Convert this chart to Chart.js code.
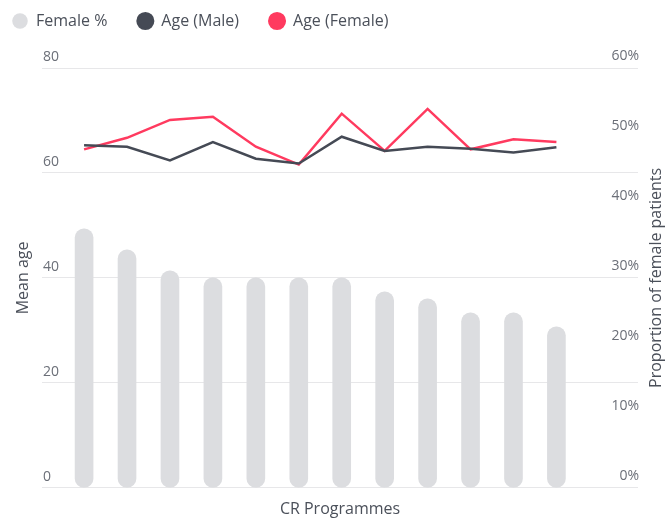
<!DOCTYPE html>
<html>
<head>
<meta charset="utf-8">
<script src="https://cdn.jsdelivr.net/npm/chart.js@4.4.0/dist/chart.umd.min.js"></script>
<style>
    html, body { margin: 0; padding: 0; background: #fff; }
    #wrap { width: 665px; height: 520px; }
</style>
</head>
<body>
<div id="wrap"><canvas id="crChart"></canvas></div>
<script>
// 12 CR programmes (names not shown on the chart)
const programmes = ['P1', 'P2', 'P3', 'P4', 'P5', 'P6', 'P7', 'P8', 'P9', 'P10', 'P11', 'P12'];
const femalePct = [37, 34, 31, 30, 30, 30, 30, 28, 27, 25, 25, 23];
const ageMale = [65.3, 65.0, 62.4, 65.9, 62.7, 61.8, 66.9, 64.2, 65.0, 64.6, 63.9, 64.9];
const ageFemale = [64.5, 66.7, 70.1, 70.7, 65.0, 61.6, 71.3, 64.2, 72.2, 64.5, 66.4, 65.9];
const ageTicks = [0, 20, 40, 60, 80];
const pctTicks = [0, 10, 20, 30, 40, 50, 60];

const FONT = 'Open Sans';
const textColor = '#4b505a';
const tickColor = '#6b6f78';

function toPoints(values) {
    return values.map((v, i) => ({ x: i, y: v, label: programmes[i] }));
}

// legend takes the space above the plot
const legendSpace = {
    id: 'legendSpace',
    beforeInit(chart) {
        const fitLegend = chart.legend.fit;
        chart.legend.fit = function() {
            fitLegend.bind(chart.legend)();
            this.height = 85;
        };
    }
};

// both axis titles read bottom-to-top
const sideTitles = {
    id: 'sideTitles',
    afterDraw(chart) {
        const c = chart.ctx;
        const area = chart.chartArea;
        const mid = area.top + (area.bottom - area.top) / 2;
        [['Mean age', 23, mid], ['Proportion of female patients', 656, mid]].forEach(t => {
            c.save();
            c.fillStyle = textColor;
            c.font = '16px "' + FONT + '"';
            c.textAlign = 'center';
            c.textBaseline = 'middle';
            c.translate(t[1], t[2]);
            c.rotate(-Math.PI / 2);
            c.fillText(t[0], 0, 0);
            c.restore();
        });
    }
};

const ctx = document.getElementById('crChart').getContext('2d');
new Chart(ctx, {
    type: 'bar',
    data: {
        datasets: [
            {
                type: 'bar',
                label: 'Female %',
                data: toPoints(femalePct),
                yAxisID: 'yPct',
                backgroundColor: '#dcdde0',
                borderRadius: 9,
                borderSkipped: false,
                barThickness: 18
            },
            {
                type: 'line',
                label: 'Age (Male)',
                data: toPoints(ageMale),
                yAxisID: 'yAge',
                borderColor: '#454a55',
                backgroundColor: '#454a55',
                borderWidth: 2.5,
                pointRadius: 0,
                tension: 0
            },
            {
                type: 'line',
                label: 'Age (Female)',
                data: toPoints(ageFemale),
                yAxisID: 'yAge',
                borderColor: '#ff3a5f',
                backgroundColor: '#ff3a5f',
                borderWidth: 2.5,
                pointRadius: 0,
                tension: 0
            }
        ]
    },
    options: {
        responsive: true,
        maintainAspectRatio: false,
        animation: false,
        layout: { padding: { top: -17, left: -18, right: 0, bottom: 0 } },
        plugins: {
            legend: {
                position: 'top',
                align: 'start',
                labels: {
                    usePointStyle: true,
                    pointStyle: 'circle',
                    boxWidth: 16,
                    boxHeight: 11,
                    padding: 30,
                    color: textColor,
                    font: { family: FONT, size: 16 }
                }
            },
            tooltip: { enabled: false }
        },
        scales: {
            x: {
                type: 'linear',
                min: -0.98,
                max: 12.9,
                offset: false,
                grid: { display: false, drawTicks: false },
                border: { display: false },
                ticks: { display: false },
                title: {
                    display: true,
                    text: 'CR Programmes',
                    color: textColor,
                    font: { family: FONT, size: 16 },
                    padding: { top: 12, bottom: 1 }
                }
            },
            yAge: {
                position: 'left',
                min: 0,
                max: 80,
                afterBuildTicks(scale) {
                    scale.ticks = ageTicks.map(v => ({ value: v }));
                },
                afterFit(scale) { scale.width = 60; },
                grid: { color: '#e7e7e9', lineWidth: 1, drawTicks: false },
                border: { display: false },
                ticks: {
                    mirror: true,
                    padding: 1,
                    labelOffset: -11,
                    color: tickColor,
                    font: { family: FONT, size: 14 }
                }
            },
            yPct: {
                position: 'right',
                min: 0,
                max: 60,
                afterBuildTicks(scale) {
                    scale.ticks = pctTicks.map(v => ({ value: v }));
                },
                afterFit(scale) { scale.width = 27; },
                grid: { drawOnChartArea: false, drawTicks: false },
                border: { display: false },
                ticks: {
                    mirror: true,
                    padding: 1,
                    labelOffset: -12,
                    color: tickColor,
                    font: { family: FONT, size: 14 },
                    callback: v => v + '%'
                }
            }
        }
    },
    plugins: [legendSpace, sideTitles]
});
</script>
</body>
</html>
